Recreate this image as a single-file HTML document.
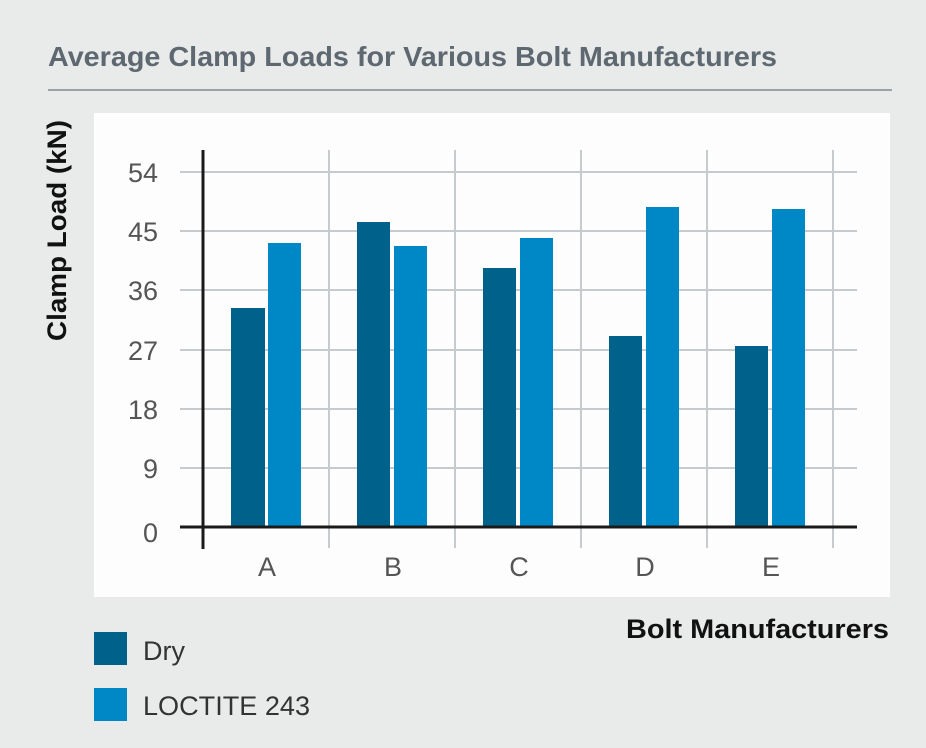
<!DOCTYPE html>
<html><head><style>
body{margin:0;width:926px;height:748px;background:#e9eaea;font-family:"Liberation Sans",sans-serif;position:relative;overflow:hidden}
</style></head><body>
<svg width="926" height="748" style="position:absolute;left:0;top:0" font-family="Liberation Sans, sans-serif">
<text x="48" y="66" font-size="28" font-weight="bold" fill="#5d6870" textLength="729" lengthAdjust="spacingAndGlyphs">Average Clamp Loads for Various Bolt Manufacturers</text>
<rect x="48" y="89" width="844" height="2" fill="#9aa3a8"/>
<rect x="94" y="113" width="796" height="484" fill="#fdfdfd"/>
<g stroke="#c8cbcd" stroke-width="2">
<line x1="180" x2="857" y1="172" y2="172"/><line x1="180" x2="857" y1="231" y2="231"/>
<line x1="180" x2="857" y1="290" y2="290"/><line x1="180" x2="857" y1="350" y2="350"/>
<line x1="180" x2="857" y1="409" y2="409"/><line x1="180" x2="857" y1="468" y2="468"/>
<line x1="329" x2="329" y1="150" y2="548"/><line x1="455" x2="455" y1="150" y2="548"/>
<line x1="581" x2="581" y1="150" y2="548"/><line x1="707" x2="707" y1="150" y2="548"/>
<line x1="833" x2="833" y1="150" y2="548"/>
</g>
<g fill="#00628b">
<rect x="231" y="308" width="34" height="219"/><rect x="357" y="222" width="33" height="305"/>
<rect x="483" y="268" width="33" height="259"/><rect x="609" y="336" width="33" height="191"/>
<rect x="735" y="346" width="33" height="181"/>
</g>
<g fill="#0088c6">
<rect x="268" y="243" width="33" height="284"/><rect x="394" y="246" width="33" height="281"/>
<rect x="520" y="238" width="33" height="289"/><rect x="646" y="207" width="33" height="320"/>
<rect x="772" y="209" width="33" height="318"/>
</g>
<line x1="180" x2="857" y1="527" y2="527" stroke="#1a1a1a" stroke-width="3"/>
<line x1="203" x2="203" y1="150" y2="549" stroke="#1a1a1a" stroke-width="3"/>
<g font-size="27" fill="#555" text-anchor="end">
<text x="158" y="182">54</text><text x="158" y="241">45</text><text x="158" y="300">36</text>
<text x="158" y="360">27</text><text x="158" y="419">18</text><text x="158" y="478">9</text><text x="158" y="542">0</text>
</g>
<g font-size="27" fill="#555" text-anchor="middle">
<text x="267" y="576">A</text><text x="393" y="576">B</text><text x="519" y="576">C</text>
<text x="645" y="576">D</text><text x="771" y="576">E</text>
</g>
<text transform="translate(66,341) rotate(-90)" font-size="27" font-weight="bold" fill="#111" textLength="221" lengthAdjust="spacingAndGlyphs">Clamp Load (kN)</text>
<text x="626" y="638" font-size="27" font-weight="bold" fill="#111" textLength="263" lengthAdjust="spacingAndGlyphs">Bolt Manufacturers</text>
<rect x="94" y="632" width="33" height="33" fill="#00628b"/>
<rect x="94" y="688" width="33" height="33" fill="#0088c6"/>
<text x="143" y="660" font-size="27" fill="#333">Dry</text>
<text x="143" y="715" font-size="27" fill="#333" textLength="167" lengthAdjust="spacingAndGlyphs">LOCTITE 243</text>
</svg>
</body></html>
